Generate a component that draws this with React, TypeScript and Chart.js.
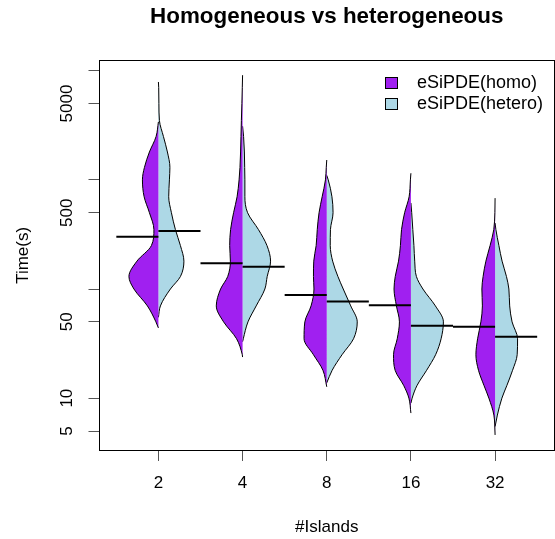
import React, { useEffect, useRef } from 'react';
import { Chart, registerables } from 'chart.js';

Chart.register(...registerables);

// ---------- data ----------
const categories = ['2', '4', '8', '16', '32'];
const seriesLabels = ['eSiPDE(homo)', 'eSiPDE(hetero)'];

// time levels (s) at which the violin half-widths (density readings) were read
const levels = [7000, 5000, 3500, 2500, 1800, 1300, 1000, 700, 500, 350, 250, 180, 130, 100, 70, 50, 35, 25, 18, 13, 10, 7];
const N = null;

const homoDensity = [
  [N, N, N, 2.3, 9, 14, 16, 14.3, 9, 4.5, 7, 21.5, 29.5, 24.5, 11, 2.5, N, N, N, N, N, N],
  [0.3, 0.7, 1.2, 1.6, 2, 2.6, 3.5, 5.5, 9, 12, 12.9, 12.2, 14.9, 22, 26.3, 19, 6, 0.3, N, N, N, N],
  [N, N, N, N, N, 0.5, 1.3, 4.6, 7.7, 9.5, 10.6, 13, 13.3, 12.8, 15.7, 21.9, 22.7, 13.3, 3.8, N, N, N],
  [N, N, N, N, N, N, 0.5, 1.8, 6.3, 9.4, 10.5, 12.4, 15.7, 16.9, 14.5, 11.5, 13.7, 17.4, 15.8, 7.1, 2, N],
  [N, N, N, N, N, N, N, N, 0.2, 1.3, 5, 9.2, 12, 13.2, 12.7, 14.2, 17.5, 19.2, 16.6, 11, 6.2, 1.2],
];
const heteroDensity = [
  [0.3, 0.5, 1, 5, 9, 11.5, 11, 10.3, 13, 17, 22, 25.5, 22, 12, 2, N, N, N, N, N, N, N],
  [N, N, N, 1, 1.8, 2.1, 2.3, 2.3, 5, 15.9, 24.4, 28, 24.6, 22.3, 13.6, 5.4, 0.7, N, N, N, N, N],
  [N, N, N, N, N, N, 1.5, 5.2, 6.3, 3.7, 3.5, 5.9, 11.2, 16.5, 24, 30.5, 26.8, 15.3, 5.4, N, N, N],
  [N, N, N, N, N, N, N, N, 0.8, 1.9, 3, 3.8, 5.5, 12, 24.5, 32.5, 30.2, 24.7, 15.7, 6, 1.2, N],
  [N, N, N, N, N, N, N, N, N, 0.8, 3.8, 7, 11.4, 13.8, 14.6, 17, 22.5, 22.1, 17.5, 11.7, 6.8, 2.3],
];

const homoMin = [44, 23.8, 12.7, 7.3, 4.6];
const homoMax = [3400, 9100, 1520, 1150, 680];
const heteroMin = [55, 32.9, 13.8, 9.0, 5.5];
const heteroMax = [7880, 3100, 1100, 614, 402];

const homoMedian = [301, 172, 88, 71, 45];
const heteroMedian = [340, 160, 77, 46, 36.5];

const yTickValues = [5, 10, 50, 100, 500, 1000, 5000, 10000];
const yTickLabels = [5, 10, 50, 500, 5000];

// ---------- style ----------
const PURPLE = '#A020F0';
const LIGHTBLUE = '#ADD8E6';
const DENSITY_TO_X = 1 / 84.2; // converts density readings into x-axis units
const FONT = "'Liberation Sans', Arial, Helvetica, sans-serif";

function halfPoints(i: number, dens: (number | null)[], min: number, max: number, sign: number) {
  const c = i + 1;
  const pts: { x: number; y: number }[] = [{ x: c, y: max }];
  levels.forEach((lv, k) => {
    const d = dens[k];
    if (d !== null && d !== undefined) pts.push({ x: c + sign * d * DENSITY_TO_X, y: lv });
  });
  pts.push({ x: c, y: min });
  return pts;
}

function makeMarker(color: string) {
  const c = document.createElement('canvas');
  c.width = 23;
  c.height = 12;
  const g = c.getContext('2d')!;
  g.fillStyle = color;
  g.fillRect(0.5, 0.5, 12, 11);
  g.strokeStyle = '#000';
  g.lineWidth = 1;
  g.strokeRect(0.5, 0.5, 12, 11);
  return c;
}

export default function App() {
  const ref = useRef<HTMLCanvasElement | null>(null);

  useEffect(() => {
    if (!ref.current) return;
    Chart.defaults.font.family = FONT;
    Chart.defaults.color = '#000';

    const markers: Record<number, HTMLCanvasElement> = { 0: makeMarker(PURPLE), 1: makeMarker(LIGHTBLUE) };

    const datasets: any[] = [];
    categories.forEach((_, i) => {
      datasets.push({
        label: seriesLabels[0],
        data: halfPoints(i, homoDensity[i], homoMin[i], homoMax[i], -1),
        indexAxis: 'y',
        fill: { value: i + 1 },
        backgroundColor: PURPLE,
        borderColor: '#000',
        borderWidth: 1,
        pointRadius: 0,
        pointHoverRadius: 0,
        cubicInterpolationMode: 'monotone',
        order: 1,
      });
      datasets.push({
        label: seriesLabels[1],
        data: halfPoints(i, heteroDensity[i], heteroMin[i], heteroMax[i], 1),
        indexAxis: 'y',
        fill: { value: i + 1 },
        backgroundColor: LIGHTBLUE,
        borderColor: '#000',
        borderWidth: 1,
        pointRadius: 0,
        pointHoverRadius: 0,
        cubicInterpolationMode: 'monotone',
        order: 1,
      });
    });
    categories.forEach((_, i) => {
      const c = i + 1;
      datasets.push({
        label: 'median homo',
        data: [{ x: c - 0.5, y: homoMedian[i] }, { x: c, y: homoMedian[i] }],
        borderColor: '#000',
        borderWidth: 2,
        pointRadius: 0,
        fill: false,
        order: 0,
      });
      datasets.push({
        label: 'median hetero',
        data: [{ x: c, y: heteroMedian[i] }, { x: c + 0.5, y: heteroMedian[i] }],
        borderColor: '#000',
        borderWidth: 2,
        pointRadius: 0,
        fill: false,
        order: 0,
      });
    });

    const legendMover = {
      id: 'legendMover',
      afterLayout(chart: any) {
        const lg = chart.legend;
        if (!lg) return;
        lg.left = 382;
        lg.top = 71;
        lg.right = 554;
        lg.bottom = 170;
      },
    };

    const chart = new Chart(ref.current, {
      type: 'line',
      data: { datasets },
      plugins: [legendMover],
      options: {
        responsive: false,
        animation: false,
        devicePixelRatio: 1,
        events: [],
        layout: { padding: 0 },
        scales: {
          x: {
            type: 'linear',
            position: 'bottom',
            min: 0.3,
            max: 5.7,
            afterBuildTicks: (s: any) => {
              s.ticks = categories.map((_, i) => ({ value: i + 1 }));
            },
            ticks: {
              callback: (v: any) => categories[Number(v) - 1] ?? '',
              font: { size: 17 },
              color: '#000',
              padding: 11.8,
              maxRotation: 0,
              autoSkip: false,
            },
            grid: { drawOnChartArea: false, drawTicks: true, tickLength: 11, color: '#555' },
            border: { display: true, color: '#000', width: 1 },
            title: { display: true, text: '#Islands', font: { size: 17 }, color: '#000', padding: { top: 0, bottom: 1.8 } },
            afterFit: (s: any) => {
              s.height = 89;
            },
          },
          y: {
            type: 'logarithmic',
            position: 'left',
            min: 3.35,
            max: 12350,
            afterBuildTicks: (s: any) => {
              s.ticks = yTickValues.map((v) => ({ value: v }));
            },
            ticks: {
              callback: (v: any) => (yTickLabels.includes(Number(v)) ? String(v) : ''),
              minRotation: 90,
              maxRotation: 90,
              crossAlign: 'center',
              padding: 2.6,
              font: { size: 17 },
              color: '#000',
              autoSkip: false,
            },
            grid: { drawOnChartArea: false, drawTicks: true, tickLength: 11, color: '#555' },
            border: { display: true, color: '#000', width: 1 },
            title: { display: true, text: 'Time(s)', font: { size: 17 }, color: '#000', padding: { top: 12.8, bottom: 0 } },
            afterFit: (s: any) => {
              s.width = 99.5;
            },
          },
          x2: {
            type: 'linear',
            position: 'top',
            min: 0.3,
            max: 5.7,
            ticks: { display: false },
            grid: { drawOnChartArea: false, drawTicks: false },
            border: { display: true, color: '#000', width: 1 },
            afterFit: (s: any) => {
              s.height = 0;
            },
          },
          y2: {
            type: 'linear',
            position: 'right',
            min: 0,
            max: 1,
            ticks: { display: false },
            grid: { drawOnChartArea: false, drawTicks: false },
            border: { display: true, color: '#000', width: 1 },
            afterFit: (s: any) => {
              s.width = 1;
            },
          },
        } as any,
        plugins: {
          title: {
            display: true,
            text: 'Homogeneous vs heterogeneous',
            fullSize: false,
            font: { size: 22.4, weight: 'bold' },
            color: '#000',
            padding: { top: 3.56, bottom: 30.26 },
          },
          legend: {
            display: true,
            position: 'chartArea' as any,
            fullSize: false,
            align: 'start',
            labels: {
              usePointStyle: true,
              pointStyleWidth: 23,
              boxHeight: 12,
              padding: 3,
              font: { size: 18 },
              color: '#000',
              filter: (item: any) => item.datasetIndex === 0 || item.datasetIndex === 1,
              generateLabels: (ch: any) => {
                const items = (Chart.defaults.plugins.legend.labels as any).generateLabels(ch);
                return items.map((it: any) => ({ ...it, pointStyle: markers[it.datasetIndex] ?? it.pointStyle }));
              },
            },
          },
          tooltip: { enabled: false },
        },
      } as any,
    });

    return () => chart.destroy();
  }, []);

  return (
    <div style={{ position: 'absolute', left: 0, top: 0, width: 555, height: 539 }}>
      <canvas ref={ref} width={555} height={539} style={{ display: 'block' }} />
    </div>
  );
}
